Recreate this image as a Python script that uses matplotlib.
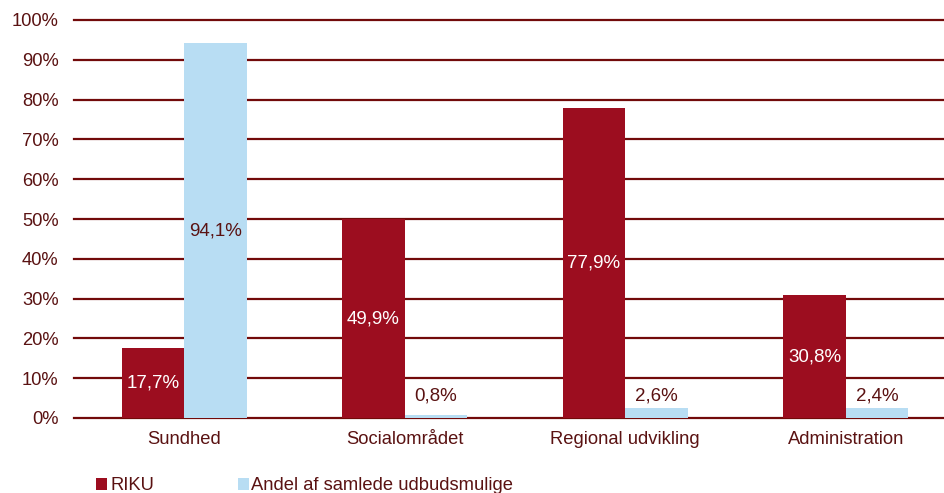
import matplotlib
matplotlib.use("Agg")
import matplotlib.pyplot as plt
import numpy as np

categories = ["Sundhed", "Socialområdet", "Regional udvikling", "Administration"]
riku = [17.7, 49.9, 77.9, 30.8]
andel = [94.1, 0.8, 2.6, 2.4]
series_names = ["RIKU", "Andel af samlede udbudsmulige"]
yticks = [0, 10, 20, 30, 40, 50, 60, 70, 80, 90, 100]

RED = "#9c0d1f"
BLUE = "#b8ddf3"
GRID = "#720a0a"
TXT = "#5a1212"

plt.rcParams['font.family'] = ['Liberation Sans', 'DejaVu Sans']

W, H = 945, 493
fig = plt.figure(figsize=(W / 100, H / 100), dpi=100)
ax = fig.add_axes([74 / W, 1 - 418 / H, (956 - 74) / W, (418 - 20) / H])
ax.set_xlim(-0.5, 3.5)
ax.set_ylim(0, 100)

x = np.arange(len(categories))
bw = 0.284
b1 = ax.bar(x - bw / 2, riku, bw, color=RED, label=series_names[0], zorder=3)
b2 = ax.bar(x + bw / 2, andel, bw, color=BLUE, label=series_names[1], zorder=3)

def fmt(v):
    return f"{v:.1f}".replace(".", ",") + "%"

LFS = 13.5
for rect, v in zip(b1, riku):
    ax.text(rect.get_x() + rect.get_width() / 2, v / 2, fmt(v), ha="center", va="center",
            color="white", fontsize=LFS, zorder=4)
for rect, v in zip(b2, andel):
    if v > 20:
        ax.text(rect.get_x() + rect.get_width() / 2, v / 2, fmt(v), ha="center", va="center",
                color=TXT, fontsize=LFS, zorder=4)
    else:
        ax.text(rect.get_x() + rect.get_width() / 2, max(v + 3.0, 5.6), fmt(v), ha="center",
                va="center", color=TXT, fontsize=LFS, zorder=4)

ax.set_yticks(yticks)
ax.set_yticklabels([f"{t}%" for t in yticks], color=TXT, fontsize=13.2)
ax.set_xticks(x)
ax.set_xticklabels(categories, color=TXT, fontsize=13.2)
ax.tick_params(axis="y", length=0, pad=11)
ax.tick_params(axis="x", length=0, pad=9)
ax.grid(axis="y", color=GRID, linewidth=1.6, zorder=1)
for gl in ax.yaxis.get_gridlines():
    gl.set_clip_on(False)
for s in ax.spines.values():
    s.set_visible(False)

leg = fig.legend(loc="lower left", bbox_to_anchor=(80 / W, -18 / H), ncol=2, frameon=False,
                 handlelength=0.6, handleheight=0.6, handletextpad=0.15, columnspacing=4.55,
                 fontsize=13.2)
for t in leg.get_texts():
    t.set_color(TXT)

fig.savefig("out.png", dpi=100)
